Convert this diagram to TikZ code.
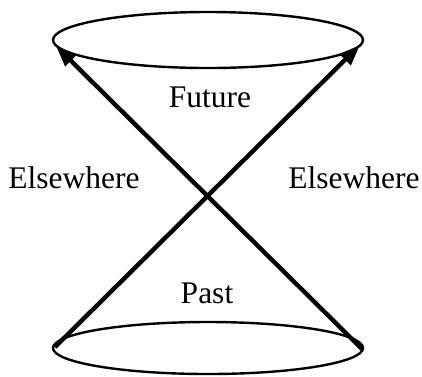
\documentclass[tikz,border=0pt]{standalone}
\usepackage{fontspec}
\setmainfont{Liberation Serif}
\usetikzlibrary{arrows.meta}
\begin{document}
\begin{tikzpicture}[x=1pt,y=-1pt,
  cone/.style={line width=2.4pt},
  ray/.style={line width=4.4pt,-{Triangle[length=21pt,width=15pt]}},
  lbl/.style={font=\fontsize{31.5}{36}\selectfont,inner sep=0pt}]
\useasboundingbox (0,0) rectangle (422,376);
\draw[cone] (208,40) ellipse [x radius=155, y radius=28];
\draw[cone] (208,348) ellipse [x radius=155, y radius=26];
\coordinate (bl) at (55,347);
\coordinate (br) at (362,349);
\coordinate (tl) at (56,46);
\coordinate (tr) at (360,45);
\draw[ray] (bl) -- (tr);
\draw[ray] (br) -- (tl);
\node[lbl] (future) at (210,97) {Future};
\node[lbl] (past) at (207,293) {Past};
\node[lbl] (elsel) at (74,178) {Elsewhere};
\node[lbl] (elser) at (354,178) {Elsewhere};
\end{tikzpicture}
\end{document}
